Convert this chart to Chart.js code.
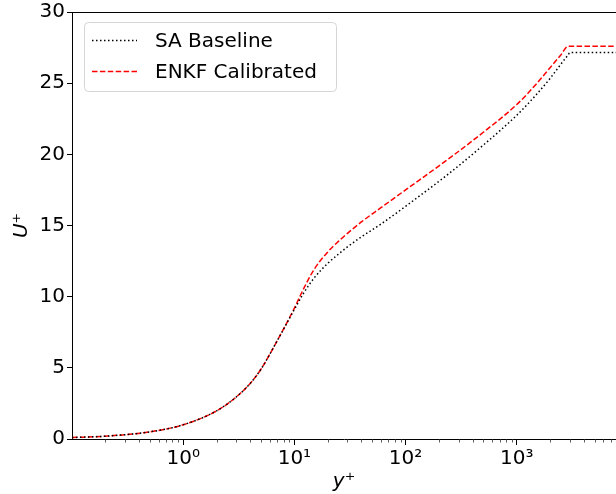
<!DOCTYPE html>
<html>
<head>
<meta charset="utf-8">
<script src="https://cdn.jsdelivr.net/npm/chart.js@4"></script>
<style>
  html, body { margin: 0; padding: 0; background: #fff; overflow: hidden; }
</style>
</head>
<body>
<canvas id="js--uplus_chart" width="616" height="494"></canvas>
<script>
// wall units
var yPlus = [0.1, 0.2, 0.5, 1, 2, 3, 4, 5, 7, 10, 12, 15, 20, 25, 30, 40, 60, 100, 250, 500, 1000, 1500, 2000, 2500, 2900, 3000, 10000];
var saBaseline = [0.1, 0.2, 0.5, 1.0, 1.98, 2.95, 3.9, 4.9, 6.9, 9.1, 10.2, 11.3, 12.35, 13.0, 13.5, 14.2, 15.1, 16.35, 18.7, 20.65, 22.75, 24.2, 25.35, 26.35, 27.0, 27.15, 27.15];
var enkfCalibrated = [0.1, 0.2, 0.5, 1.0, 1.98, 2.95, 3.9, 4.9, 6.9, 9.2, 10.5, 11.9, 13.15, 13.9, 14.45, 15.25, 16.25, 17.5, 19.75, 21.55, 23.5, 24.95, 26.1, 27.0, 27.6, 27.6, 27.6];
var seriesNames = ['SA Baseline', 'ENKF Calibrated'];
var xMajorTicks = [1, 10, 100, 1000];
var xTickLabels = ['10\u2070', '10\u00b9', '10\u00b2', '10\u00b3'];
var yTicks = [0, 5, 10, 15, 20, 25, 30];

var font = "'DejaVu Sans', sans-serif";
var cntxt = document.getElementById('js--uplus_chart');

function pairs(vals) {
    return yPlus.map(function (x, i) { return {x: x, y: vals[i]}; });
}

// top spine, minor x ticks and the legend box inside the axes
var extras = {
    id: 'extras',
    afterDraw: function (chart) {
        var ctx = chart.ctx;
        var area = chart.chartArea;
        var xs = chart.scales.x;
        ctx.save();
        ctx.strokeStyle = '#000';
        ctx.lineWidth = 1;
        ctx.beginPath();
        ctx.moveTo(area.left, area.top + 0.5);
        ctx.lineTo(area.right, area.top + 0.5);
        ctx.stroke();

        ctx.strokeStyle = '#333';
        ctx.lineWidth = 0.8;
        for (var e = -1; e <= 3; e++) {
            for (var m = 2; m <= 9; m++) {
                var v = m * Math.pow(10, e);
                var px = Math.round(xs.getPixelForValue(v)) + 0.5;
                if (px < area.left || px > area.right) continue;
                ctx.beginPath();
                ctx.moveTo(px, area.bottom);
                ctx.lineTo(px, area.bottom + 3.5);
                ctx.stroke();
            }
        }

        // legend
        var bx = 84.5, by = 22.5, bw = 252, bh = 69, r = 4;
        ctx.fillStyle = 'rgba(255,255,255,0.8)';
        ctx.strokeStyle = '#d5d5d5';
        ctx.lineWidth = 1;
        ctx.beginPath();
        ctx.moveTo(bx + r, by);
        ctx.lineTo(bx + bw - r, by);
        ctx.arcTo(bx + bw, by, bx + bw, by + r, r);
        ctx.lineTo(bx + bw, by + bh - r);
        ctx.arcTo(bx + bw, by + bh, bx + bw - r, by + bh, r);
        ctx.lineTo(bx + r, by + bh);
        ctx.arcTo(bx, by + bh, bx, by + bh - r, r);
        ctx.lineTo(bx, by + r);
        ctx.arcTo(bx, by, bx + r, by, r);
        ctx.closePath();
        ctx.fill();
        ctx.stroke();

        chart.data.datasets.forEach(function (ds, i) {
            var ly = 40.5 + i * 31;
            ctx.strokeStyle = ds.borderColor;
            ctx.lineWidth = ds.borderWidth;
            ctx.setLineDash(ds.borderDash);
            ctx.beginPath();
            ctx.moveTo(92, ly);
            ctx.lineTo(137, ly);
            ctx.stroke();
            ctx.setLineDash([]);
            ctx.fillStyle = '#000';
            ctx.font = '20px ' + font;
            ctx.textBaseline = 'middle';
            ctx.textAlign = 'left';
            ctx.fillText(ds.label, 155, ly + 1);
        });
        ctx.restore();
    }
};

var myChart = new Chart(cntxt, {
    type: 'line',
    data: {
        datasets: [
            {
                label: seriesNames[0],
                data: pairs(saBaseline),
                borderColor: '#000000',
                borderWidth: 1.5,
                borderDash: [1.5, 2.5],
                pointRadius: 0,
                fill: false,
                cubicInterpolationMode: 'monotone'
            },
            {
                label: seriesNames[1],
                data: pairs(enkfCalibrated),
                borderColor: '#ff0000',
                borderWidth: 1.5,
                borderDash: [5.5, 2.4],
                pointRadius: 0,
                fill: false,
                cubicInterpolationMode: 'monotone'
            }
        ]
    },
    options: {
        responsive: false,
        animation: false,
        layout: { padding: { top: 11, right: 0, left: 0, bottom: 0 } },
        plugins: {
            legend: { display: false },
            tooltip: { enabled: false }
        },
        scales: {
            x: {
                type: 'logarithmic',
                min: 0.1,
                max: 7800,
                afterBuildTicks: function (scale) {
                    scale.ticks = xMajorTicks.map(function (v) { return {value: v}; });
                },
                afterFit: function (scale) { scale.height = 55; },
                ticks: {
                    color: '#000',
                    font: { family: font, size: 20, lineHeight: 1 },
                    padding: 4,
                    maxRotation: 0,
                    autoSkip: false,
                    callback: function (value) {
                        var i = xMajorTicks.indexOf(value);
                        return i < 0 ? '' : xTickLabels[i];
                    }
                },
                grid: { drawOnChartArea: false, tickLength: 6, tickColor: '#000' },
                border: { color: '#000', width: 1 },
                title: {
                    display: true,
                    text: 'y\u207a',
                    color: '#000',
                    font: { family: font, size: 20, style: 'italic', lineHeight: 1.2 },
                    padding: { top: 0, bottom: 0 }
                }
            },
            y: {
                type: 'linear',
                min: 0,
                max: 30,
                afterBuildTicks: function (scale) {
                    scale.ticks = yTicks.map(function (v) { return {value: v}; });
                },
                afterFit: function (scale) { scale.width = 72; },
                ticks: {
                    color: '#000',
                    font: { family: font, size: 20, lineHeight: 1 },
                    padding: 2
                },
                grid: { drawOnChartArea: false, tickLength: 5, tickColor: '#000' },
                border: { color: '#000', width: 1 },
                title: {
                    display: true,
                    text: 'U\u207a',
                    color: '#000',
                    font: { family: font, size: 20, style: 'italic', lineHeight: 1.2 },
                    padding: { top: 10, bottom: 0 }
                }
            }
        }
    },
    plugins: [extras]
});
</script>
</body>
</html>
